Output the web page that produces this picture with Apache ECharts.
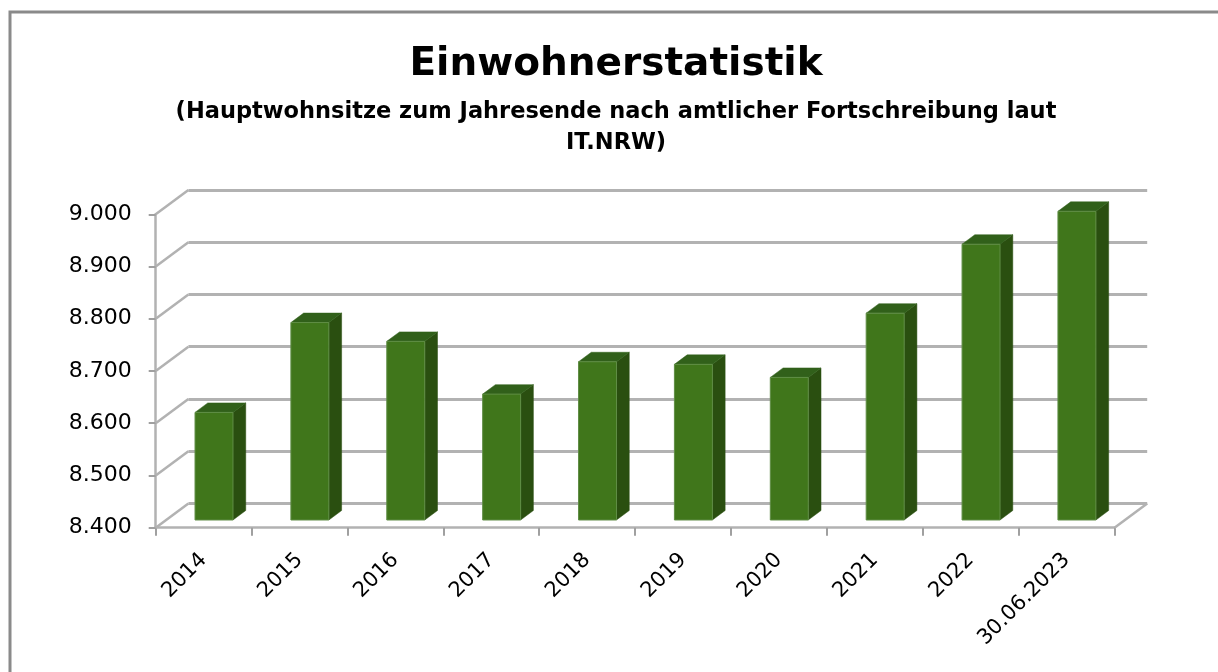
<!DOCTYPE html>
<html>
<head>
<meta charset="utf-8">
<script src="https://cdn.jsdelivr.net/npm/echarts@6/dist/echarts.min.js"></script>
<style>
  html, body { margin: 0; padding: 0; background: #fff; }
  #main { width: 1218px; height: 672px; }
</style>
</head>
<body>
<div id="main"></div>
<script>
// Daten
var categories = ['2014', '2015', '2016', '2017', '2018', '2019', '2020', '2021', '2022', '30.06.2023'];
var einwohner = [8606, 8778, 8742, 8641, 8703, 8698, 8673, 8796, 8928, 8991];
var yTicks = [8400, 8500, 8600, 8700, 8800, 8900, 9000];

// 3D-Tiefe (Rückwand gegenüber Vorderkante)
var DX = 32.7, DY = -24.3;
var FRONT = 0.317;   // Lage der Säulen-Vorderseite in der Tiefe
var SIDE = 0.39;     // Tiefe der Säulen
var BAR_W = 0.396;   // Breite relativ zur Kategorie

var font = 'DejaVu Sans';
var gridColor = '#b2b2b2';

var myChart = echarts.init(document.getElementById('main'));

function fmt(v) {
    return (v / 1000).toFixed(3);
}

myChart.setOption({
    backgroundColor: '#fff',
    animation: false,
    title: [
        {
            text: 'Einwohnerstatistik',
            left: 611, top: 40, textAlign: 'center',
            textStyle: { fontFamily: font, fontSize: 39, fontWeight: 'bold', color: '#000' }
        },
        {
            text: '(Hauptwohnsitze zum Jahresende nach amtlicher Fortschreibung laut\nIT.NRW)',
            left: 611, top: 92, textAlign: 'center',
            textStyle: { fontFamily: font, fontSize: 22.5, fontWeight: 'bold', color: '#000', lineHeight: 31 }
        }
    ],
    graphic: [
        {
            type: 'rect', shape: { x: 10, y: 12, width: 1400, height: 900 },
            style: { fill: 'none', stroke: '#8a8a8a', lineWidth: 3 }, silent: true
        }
    ],
    grid: [
        { left: 155.7, right: 103.5, top: 214.3, bottom: 144.3 },
        { left: 155.7 + DX, right: 103.5 - DX, top: 214.3 + DY, bottom: 144.3 - DY }
    ],
    xAxis: [
        {
            type: 'category', gridIndex: 0, data: categories,
            axisLine: { show: true, lineStyle: { color: gridColor, width: 2.5 } },
            axisTick: { show: true, length: 8, lineStyle: { color: '#a0a0a0', width: 2 } },
            axisLabel: { rotate: 45, margin: 29, interval: 0, fontFamily: font, fontSize: 21, color: '#000' },
            splitLine: { show: false }
        },
        {
            type: 'category', gridIndex: 1, data: categories,
            axisLine: { show: false }, axisTick: { show: false }, axisLabel: { show: false }
        }
    ],
    yAxis: [
        {
            type: 'value', gridIndex: 0, min: 8400, max: 9000, interval: 100,
            axisLine: { show: true, lineStyle: { color: gridColor, width: 2.5 } },
            axisTick: { show: true, length: 7, lineStyle: { color: '#a0a0a0', width: 2 } },
            axisLabel: { margin: 24, formatter: fmt, fontFamily: font, fontSize: 22, color: '#000' },
            splitLine: { show: false }
        },
        {
            type: 'value', gridIndex: 1, min: 8400, max: 9000, interval: 100,
            axisLine: { show: false }, axisTick: { show: false }, axisLabel: { show: false },
            splitLine: { show: true, lineStyle: { color: gridColor, width: 3 } }
        }
    ],
    series: [
        {
            // Seitenwand- und Bodenkanten
            type: 'custom', xAxisIndex: 0, yAxisIndex: 0, z: 1, silent: true,
            data: yTicks.map(function (v) { return [0, v]; }),
            renderItem: function (params, api) {
                var v = api.value(1);
                var p = api.coord([0, v]);
                var band = api.size([1, 0])[0];
                var x0 = p[0] - band / 2;
                var children = [{
                    type: 'line',
                    shape: { x1: x0, y1: p[1], x2: x0 + DX, y2: p[1] + DY },
                    style: { stroke: gridColor, lineWidth: 2.5 }
                }];
                if (v === yTicks[0]) {
                    var q = api.coord([categories.length - 1, v]);
                    var x1 = q[0] + band / 2;
                    children.push({
                        type: 'line',
                        shape: { x1: x1, y1: q[1], x2: x1 + DX, y2: q[1] + DY },
                        style: { stroke: gridColor, lineWidth: 2.5 }
                    });
                }
                return { type: 'group', children: children };
            }
        },
        {
            // 3D-Säulen
            type: 'custom', xAxisIndex: 0, yAxisIndex: 0, z: 3,
            data: einwohner.map(function (v, i) { return [i, v]; }),
            renderItem: function (params, api) {
                var i = api.value(0);
                var top = api.coord([i, api.value(1)]);
                var base = api.coord([i, yTicks[0]]);
                var band = api.size([1, 0])[0];
                var w = band * BAR_W;
                var fx = DX * FRONT, fy = DY * FRONT;
                var sx = DX * SIDE, sy = DY * SIDE;
                var xl = top[0] + fx - w / 2, xr = xl + w;
                var yt = top[1] + fy, yb = base[1] + fy;
                return {
                    type: 'group',
                    children: [
                        {
                            type: 'polygon',
                            shape: { points: [[xr, yt], [xr + sx, yt + sy], [xr + sx, yb + sy], [xr, yb]] },
                            style: { fill: '#2a4f10', stroke: '#2a4f10', lineWidth: 0.5 }
                        },
                        {
                            type: 'polygon',
                            shape: { points: [[xl, yt], [xl + sx, yt + sy], [xr + sx, yt + sy], [xr, yt]] },
                            style: { fill: '#31601a', stroke: '#31601a', lineWidth: 0.5 }
                        },
                        {
                            type: 'rect',
                            shape: { x: xl, y: yt, width: w, height: yb - yt },
                            style: { fill: '#40761b', stroke: '#5f8d45', lineWidth: 1 }
                        }
                    ]
                };
            }
        }
    ]
});
</script>
</body>
</html>
